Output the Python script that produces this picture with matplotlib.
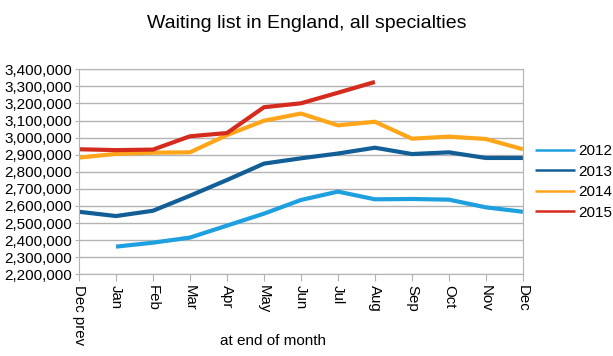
import numpy as np
import matplotlib
matplotlib.use('Agg')
import matplotlib.pyplot as plt
from matplotlib.ticker import FuncFormatter

plt.rcParams['font.family'] = ['Liberation Sans', 'DejaVu Sans']

# Data
months = ['Dec prev', 'Jan', 'Feb', 'Mar', 'Apr', 'May', 'Jun',
          'Jul', 'Aug', 'Sep', 'Oct', 'Nov', 'Dec']
wl_2012 = [np.nan, 2362000, 2385000, 2415000, 2485000, 2555000, 2635000,
           2684000, 2639000, 2641000, 2637000, 2592000, 2566000]
wl_2013 = [2566000, 2541000, 2572000, 2660000, 2752000, 2848000, 2879000,
           2907000, 2941000, 2904000, 2914000, 2881000, 2881000]
wl_2014 = [2883000, 2905000, 2912000, 2914000, 3015000, 3099000, 3141000,
           3072000, 3093000, 2994000, 3006000, 2992000, 2932000]
wl_2015 = [2932000, 2927000, 2930000, 3008000, 3027000, 3178000, 3201000,
           3263000, 3326000, np.nan, np.nan, np.nan, np.nan]
years = ['2012', '2013', '2014', '2015']
colors = ['#1e9fe0', '#125f97', '#ffa51a', '#d52b1e']

fig = plt.figure(figsize=(6.13, 3.56), dpi=100)
ax = fig.add_axes([0.1289, 0.2295, 0.853 - 0.1289, 0.8053 - 0.2295])

x = np.arange(len(months))
for series, name, c in zip([wl_2012, wl_2013, wl_2014, wl_2015], years, colors):
    ax.plot(x, series, color=c, lw=3.0, label=name, solid_capstyle='butt')

ax.set_xlim(0, len(months) - 1)
ax.set_ylim(2200000, 3400000)
ax.set_yticks(np.arange(2200000, 3400001, 100000))
ax.yaxis.set_major_formatter(FuncFormatter(lambda v, p: f'{int(v):,}'))
ax.set_xticks(x)
ax.set_xticklabels(months, rotation=-90, va='top', ha='center')

ax.grid(axis='y', color='#b3b3b3', lw=1.0)
ax.set_axisbelow(True)
for s in ax.spines.values():
    s.set_color('#b3b3b3')
ax.tick_params(axis='x', length=5, color='#b3b3b3', labelsize=10.8, pad=3)
ax.tick_params(axis='y', length=3, color='#b3b3b3', labelsize=11, pad=2)

fig.text(0.5, 0.935, 'Waiting list in England, all specialties',
         ha='center', va='center', fontsize=14)
fig.text(273 / 613, 1 - 341 / 356, 'at end of month',
         ha='center', va='center', fontsize=11)

leg = ax.legend(loc='center left', bbox_to_anchor=(1.027, 0.45), frameon=False,
                fontsize=11, handlelength=2.6, handletextpad=0.25,
                labelspacing=0.42, borderpad=0, borderaxespad=0.0)
for line in leg.get_lines():
    line.set_linewidth(1.8)

fig.savefig('out.png', dpi=100)
